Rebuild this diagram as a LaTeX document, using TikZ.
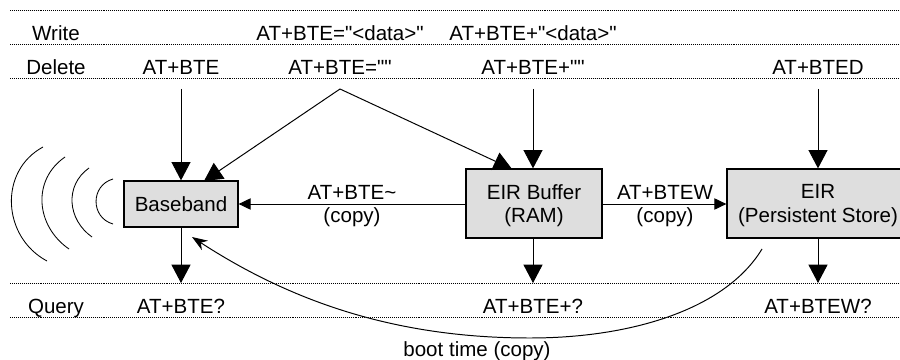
\documentclass[tikz,border=0pt]{standalone}
\usepackage{fontspec}
\setmainfont{Liberation Sans}[Ligatures=TeXOff]
\usetikzlibrary{arrows.meta}
\tikzset{
	cmd/.style={inner sep=0pt, text height=11pt, text depth=1pt, font=\fontsize{14.6}{16.5}\selectfont, align=center},
	store/.style={draw, line width=0.9pt, fill=black!13, inner sep=0pt, text depth=0pt, font=\fontsize{14.6}{16.5}\selectfont, align=center},
	rule/.style={line width=0.5pt, dash pattern=on 0.7pt off 0.7pt},
	flow/.style={line width=0.7pt, -{Triangle[length=13pt,width=13.5pt]}},
	copyflow/.style={line width=0.7pt, -{Triangle[length=8.5pt,width=8pt]}},
	wave/.style={line width=0.6pt}
}
\begin{document}
\begin{tikzpicture}[x=0.025cm,y=-0.025cm]
	\useasboundingbox (0,0) rectangle (900,360);
	
	% dotted rows
	\draw [rule] (10,10) -- (900,10);
	\draw [rule] (10,44) -- (900,44);
	\draw [rule] (10,78) -- (900,78);
	\draw [rule] (10,283) -- (900,283);
	\draw [rule] (10,317) -- (900,317);
	
	% row names
	\node [cmd] (write) at (56,33) {Write};
	\node [cmd] (delete) at (56,67) {Delete};
	\node [cmd] (query) at (56,306.5) {Query};
	
	% stores
	\node [store, minimum width=114*0.025cm, minimum height=46*0.025cm] (baseband) at (181,204) {Baseband};
	\node [store, minimum width=136*0.025cm, minimum height=69*0.025cm] (buffer) at (534,203.5) {EIR Buffer\\(RAM)};
	\node [store, minimum width=182*0.025cm, minimum height=69*0.025cm] (eir) at (818,203.5) {EIR\\(Persistent Store)};
	
	% commands
	\node [cmd] (writebte) at (340,33) {AT+BTE="<data>"};
	\node [cmd] (writebuf) at (533,33) {AT+BTE+"<data>"};
	\node [cmd] (delbase) at (181,67) {AT+BTE};
	\node [cmd] (delbte) at (340,67) {AT+BTE=""};
	\node [cmd] (delbuf) at (533,67) {AT+BTE+""};
	\node [cmd] (deleir) at (818,67) {AT+BTED};
	\node [cmd] (qbase) at (181,306.5) {AT+BTE?};
	\node [cmd] (qbuf) at (533,306.5) {AT+BTE+?};
	\node [cmd] (qeir) at (818,306.5) {AT+BTEW?};
	
	% delete arrows
	\coordinate (peak) at (340,89);
	\coordinate (basetip) at (204,181);
	\coordinate (buftip) at (512,169);
	\draw [flow] (delbase |- peak) -- (baseband.north);
	\draw [flow] (peak) -- (basetip);
	\draw [flow] (peak) -- (buftip);
	\draw [flow] (delbuf |- peak) -- (delbuf |- buffer.north);
	\draw [flow] (deleir |- peak) -- (deleir |- eir.north);
	
	% query arrows
	\coordinate (qline) at (0,283);
	\draw [flow] (baseband.south) -- (baseband.south |- qline);
	\draw [flow] (qbuf |- buffer.south) -- (qbuf |- qline);
	\draw [flow] (qeir |- eir.south) -- (qeir |- qline);
	
	% copies
	\draw [copyflow] (buffer.west |- baseband.east) -- (baseband.east);
	\draw [copyflow] (buffer.east |- baseband.east) -- (eir.west |- baseband.east);
	\node [cmd, text height=, text depth=0pt] (tobase) at (352,204) {AT+BTE\textasciitilde\\(copy)};
	\node [cmd, text height=, text depth=0pt] (toeir) at (665,204) {AT+BTEW\\(copy)};
	
	% boot time
	\coordinate (bootfrom) at (762,249);
	\coordinate (bootlow) at (530,338);
	\coordinate (bootto) at (192,237);
	\draw [line width=0.7pt, -{Stealth[length=11pt,width=8pt]}] (bootfrom) .. controls (725,310) and (630,338) .. (bootlow) .. controls (400,338) and (295,304) .. (bootto);
	\node [cmd] (boot) at (477,349) {boot time (copy)};
	
	% radio waves
	\draw [wave] (43,147) .. controls (-1.5,171) and (2,237) .. (47,261);
	\draw [wave] (65,157) .. controls (31.7,180) and (35.7,226) .. (69,249);
	\draw [wave] (89,168) .. controls (64.4,185.5) and (67.4,219.5) .. (92,237);
	\draw [wave] (113,179) .. controls (90.4,185.4) and (90.4,217.6) .. (113,224);
	
\end{tikzpicture}
\end{document}
